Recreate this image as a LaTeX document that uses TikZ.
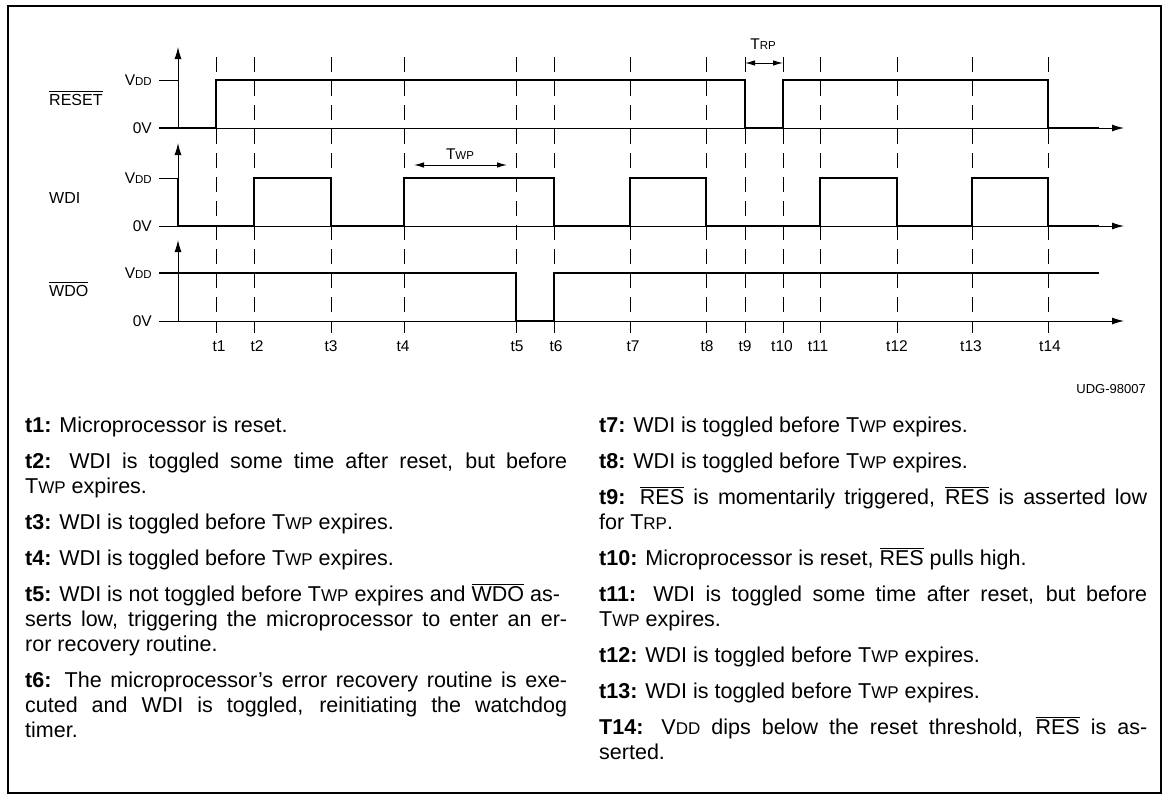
\documentclass[tikz,border=0pt]{standalone}
\usepackage{fontspec}
\setmainfont{Liberation Sans}
\usetikzlibrary{arrows.meta}
\newcommand\ovl[1]{\vbox{\hrule height 1.1pt\kern 1.8pt\hbox{#1}}}
\newcommand\sm[2]{{\fontsize{#1}{#1}\selectfont #2}}
\newcommand\TWP{T\sm{17}{WP}}
\newcommand\TRP{T\sm{17}{RP}}
\newcommand\VDDt{V\sm{17}{DD}}
\newcommand\VDDg{V\sm{11.5}{DD}}
\begin{document}
\begin{tikzpicture}[x=1pt,y=-1pt,
  sig/.style={line width=2.6pt, line join=miter},
  thinl/.style={line width=1pt},
  dsh/.style={line width=1pt, dash pattern=on 15pt off 9pt},
  axarrow/.style={line width=1pt, -{Latex[length=12pt,width=7pt]}},
  dimarrow/.style={line width=1pt, {Latex[length=10pt,width=5.5pt]}-{Latex[length=10pt,width=5.5pt]}},
  lab/.style={font=\fontsize{15.5}{15.5}\selectfont, inner sep=0pt},
  body/.style={font=\fontsize{21.5}{25}\selectfont, inner sep=0pt, anchor=base west}]
\useasboundingbox (0,0) rectangle (1166,803);
\draw[line width=1.8pt] (8,6) rectangle (1161,793);

% time grid
\foreach \x in {216,254,331,404,516,554,630,706,745,783,820,897,972,1048}{
  \draw[dsh] (\x,57) -- (\x,321);
  \draw[thinl] (\x,321) -- (\x,333);
}
\foreach \x/\n in {219/1,257/2,331/3,403/4,517/5,556/6,633/7,707/8,745/9,782/10,818/11,897/12,971/13,1050/14}{
  \node[lab,anchor=base] (lt\n) at (\x,351.5) {t\n};
}

% axes
\draw[axarrow] (178,128) -- (178,47);
\draw[axarrow] (178,226) -- (178,143);
\draw[axarrow] (178,321) -- (178,240);
\draw[axarrow] (159,128) -- (1124,128);
\draw[axarrow] (159,226) -- (1124,226);
\draw[axarrow] (159,321) -- (1124,321);
\draw[thinl] (159,80) -- (178,80);
\draw[thinl] (159,178) -- (178,178);

% level labels
\node[lab,anchor=base east] (v1) at (152,85.5) {\VDDg};
\node[lab,anchor=base east] (z1) at (152,133.5) {0V};
\node[lab,anchor=base east] (v2) at (152,183.5) {\VDDg};
\node[lab,anchor=base east] (z2) at (152,231.5) {0V};
\node[lab,anchor=base east] (v3) at (152,278.5) {\VDDg};
\node[lab,anchor=base east] (z3) at (152,326.5) {0V};

% signal names
\node[lab,anchor=base west,font=\fontsize{16}{16}\selectfont] (nreset) at (49,105) {\ovl{RESET}};
\node[lab,anchor=base west,font=\fontsize{16}{16}\selectfont] (nwdi) at (49,203) {WDI};
\node[lab,anchor=base west,font=\fontsize{16}{16}\selectfont] (nwdo) at (49,296) {\ovl{WDO}};

% signals
\draw[sig] (159,128) -- (216,128) -- (216,80) -- (745,80) -- (745,128) -- (783,128) -- (783,80) -- (1048,80) -- (1048,128) -- (1099,128);
\draw[sig] (178,178) -- (178,226) -- (254,226) -- (254,178) -- (331,178) -- (331,226) -- (404,226) -- (404,178) -- (554,178) -- (554,226) -- (630,226) -- (630,178) -- (706,178) -- (706,226) -- (820,226) -- (820,178) -- (897,178) -- (897,226) -- (972,226) -- (972,178) -- (1048,178) -- (1048,226) -- (1099,226);
\draw[sig] (159,273) -- (516,273) -- (516,321) -- (554,321) -- (554,273) -- (1099,273);

% timing dimensions
\draw[dimarrow] (414,165) -- (507,165);
\node[lab,anchor=base] (twp) at (460,159.5) {T\sm{11.5}{WP}};
\draw[dimarrow] (745,63) -- (783,63);
\node[lab,anchor=base] (trp) at (763,49.5) {T\sm{11.5}{RP}};

\node[inner sep=0pt,anchor=base east,font=\fontsize{13}{13}\selectfont] (udg) at (1146,393) {UDG-98007};

% left column
\node[body] (l1) at (25,432.7) {\textbf{t1:} Microprocessor is reset.};
\node[body] (l2) at (25,468.7) {\makebox[542pt][s]{\textbf{t2:} WDI is toggled some time after reset, but before}};
\node[body] (l3) at (25,493.7) {\TWP{} expires.};
\node[body] (l4) at (25,529.7) {\textbf{t3:} WDI is toggled before \TWP{} expires.};
\node[body] (l5) at (25,565.7) {\textbf{t4:} WDI is toggled before \TWP{} expires.};
\node[body] (l6) at (25,601.7) {\textbf{t5:} WDI is not toggled before \TWP{} expires and \ovl{WDO} as-};
\node[body] (l7) at (25,626.7) {\makebox[542pt][s]{serts low, triggering the microprocessor to enter an er-}};
\node[body] (l8) at (25,651.7) {ror recovery routine.};
\node[body] (l9) at (25,687.7) {\makebox[542pt][s]{\textbf{t6:} The microprocessor’s error recovery routine is exe-}};
\node[body] (l10) at (25,712.7) {\makebox[542pt][s]{cuted and WDI is toggled, reinitiating the watchdog}};
\node[body] (l11) at (25,737.7) {timer.};

% right column
\node[body] (r1) at (599,432.7) {\textbf{t7:} WDI is toggled before \TWP{} expires.};
\node[body] (r2) at (599,468.7) {\textbf{t8:} WDI is toggled before \TWP{} expires.};
\node[body] (r3) at (599,504.7) {\makebox[548pt][s]{\textbf{t9:} \ovl{RES} is momentarily triggered, \ovl{RES} is asserted low}};
\node[body] (r4) at (599,529.7) {for \TRP.};
\node[body] (r5) at (599,565.7) {\textbf{t10:} Microprocessor is reset, \ovl{RES} pulls high.};
\node[body] (r6) at (599,601.7) {\makebox[548pt][s]{\textbf{t11:} WDI is toggled some time after reset, but before}};
\node[body] (r7) at (599,626.7) {\TWP{} expires.};
\node[body] (r8) at (599,662.7) {\textbf{t12:} WDI is toggled before \TWP{} expires.};
\node[body] (r9) at (599,698.7) {\textbf{t13:} WDI is toggled before \TWP{} expires.};
\node[body] (r10) at (599,734.7) {\makebox[548pt][s]{\textbf{T14:} \VDDt{} dips below the reset threshold, \ovl{RES} is as-}};
\node[body] (r11) at (599,759.7) {serted.};
\end{tikzpicture}
\end{document}
